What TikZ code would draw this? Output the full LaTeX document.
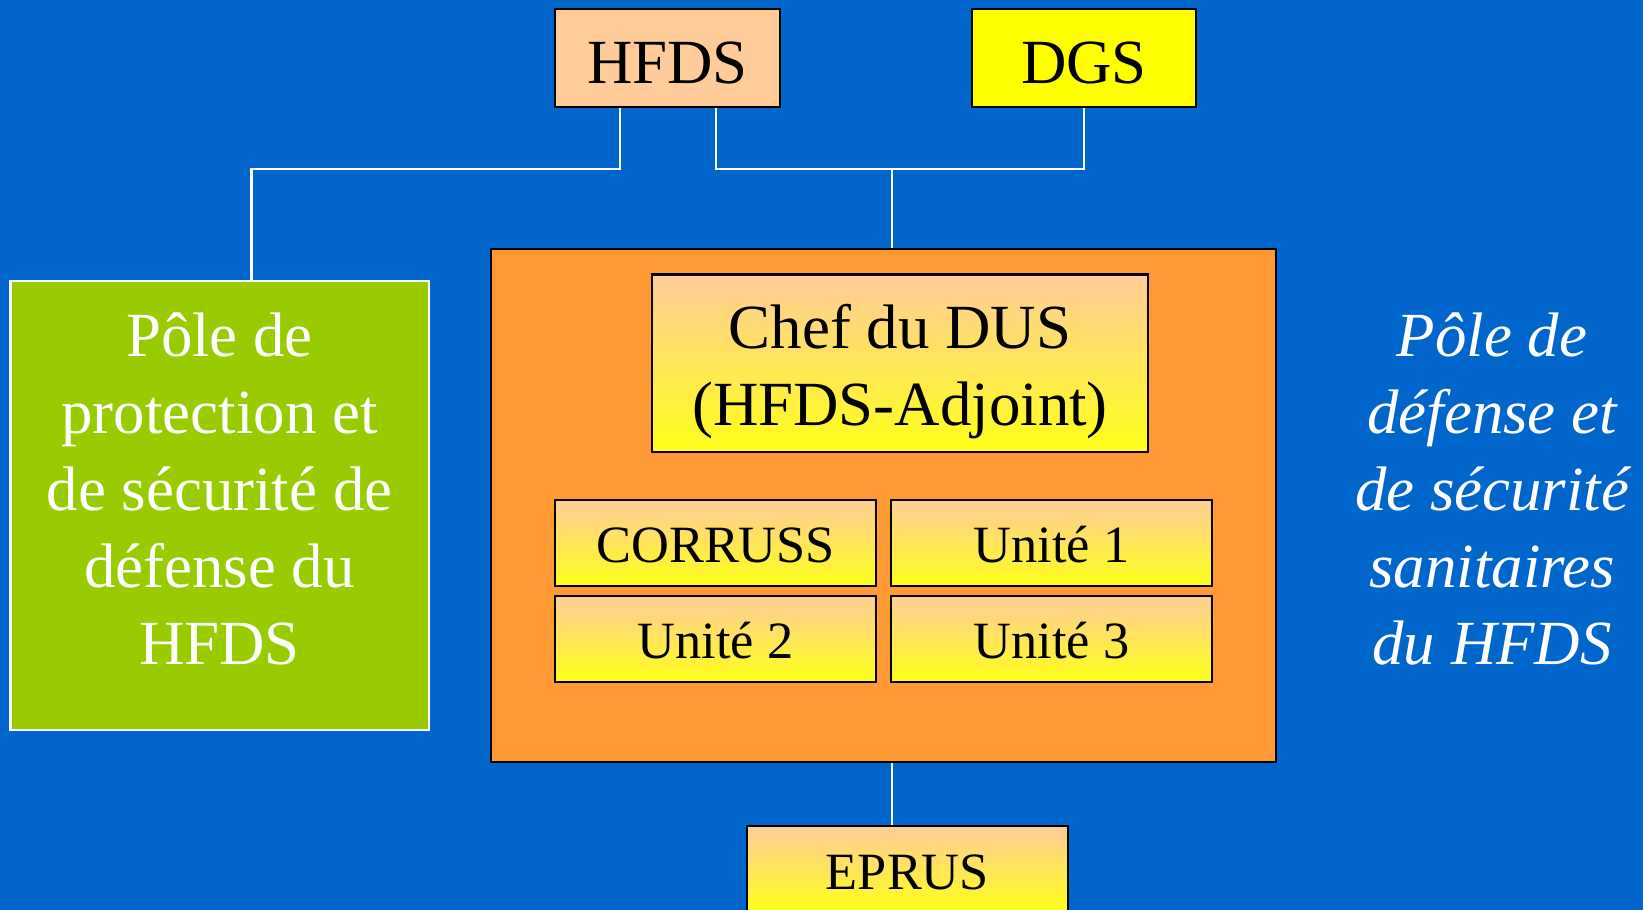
\documentclass[tikz,border=0pt]{standalone}
\usepackage{fontspec}
\setmainfont{Liberation Serif}
\definecolor{bgblue}{HTML}{0066CC}
\definecolor{orng}{HTML}{FF9933}
\definecolor{grn}{HTML}{99CC00}
\definecolor{peach}{HTML}{FFCC99}
\definecolor{yel}{HTML}{FFFF00}
\definecolor{gyel}{HTML}{FFFF1A}
\pgfdeclarelayer{bg}
\pgfsetlayers{bg,main}
\tikzset{
  box/.style={draw=black, line width=2pt, inner sep=0pt, shape=rectangle},
  grad/.style={box, top color=peach, bottom color=gyel},
  big/.style={font=\fontsize{60}{73.5}\selectfont},
  small/.style={font=\fontsize{50}{60}\selectfont},
  wire/.style={draw=white, line width=2pt},
  unitbox/.style={grad, small, minimum width=306pt, minimum height=82pt, text height=37pt, text depth=0pt},
}
\begin{document}
\begin{tikzpicture}[x=1pt,y=-1pt]
\useasboundingbox (0,0) rectangle (1568,868);
\clip (0,0) rectangle (1568,868);
\begin{pgfonlayer}{bg}
\fill[bgblue] (0,0) rectangle (1568,868);
\end{pgfonlayer}

\node[box, fill=peach, big, minimum width=214pt, minimum height=93pt, text height=49pt, text depth=0pt] (hfds) at (637,55.5) {HFDS};
\node[box, fill=yel, big, minimum width=214pt, minimum height=93pt, text height=49pt, text depth=0pt] (dgs) at (1034.5,55.5) {DGS};

\node[box, fill=orng, minimum width=749pt, minimum height=489pt] (dus) at (843.5,482.5) {};
\node[draw=white, line width=2pt, fill=grn, inner sep=0pt, minimum width=399pt, minimum height=429pt] (pole) at (209.5,482.5) {};
\node[big, text=white, align=center, inner sep=0pt] (poletxt) at (209.5,466.5) {Pôle de\\protection et\\de sécurité de\\défense du\\HFDS};

\node[grad, minimum width=474pt, minimum height=169pt] (chef) at (859,346.5) {};
\node[big, align=center, inner sep=0pt] (cheftxt) at (859,354.8) {Chef du DUS\\(HFDS-Adjoint)};

\node[unitbox] (corruss) at (683,518) {CORRUSS};
\node[unitbox] (u1) at (1003.5,518) {Unité 1};
\node[unitbox] (u2) at (683,609.5) {Unité 2};
\node[unitbox] (u3) at (1003.5,609.5) {Unité 3};

\node[grad, small, minimum width=306pt, minimum height=82pt, text height=39pt, text depth=0pt] (eprus) at (866,829) {EPRUS};

\node[font=\fontsize{60}{73.5}\selectfont\itshape, text=white, align=center, inner sep=0pt] (rtxt) at (1424,466.5) {Pôle de\\défense et\\de sécurité\\sanitaires\\du HFDS};

\coordinate (bus) at (851,161);
\coordinate (h1) at ([xshift=-45pt]hfds.south);
\coordinate (h2) at ([xshift=46pt]hfds.south);
\coordinate (g1) at ([xshift=30.5pt]pole.north);
\begin{pgfonlayer}{bg}
\draw[wire] (h1) |- (g1 |- bus) -- (g1);
\draw[wire] (h2) |- (dgs.south |- bus) -- (dgs.south);
\draw[wire] (bus) -- (bus |- dus.north);
\draw[wire] (dus.south -| bus) -- (eprus.north -| bus);
\end{pgfonlayer}
\end{tikzpicture}
\end{document}
